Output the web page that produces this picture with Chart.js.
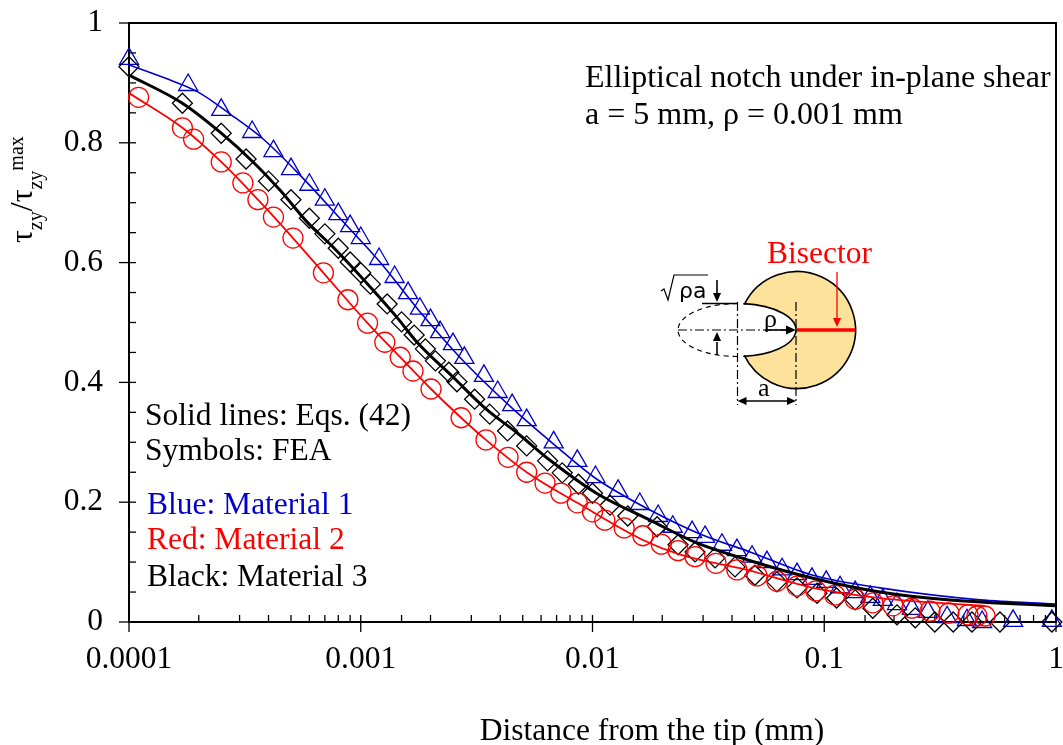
<!DOCTYPE html>
<html>
<head>
<meta charset="UTF-8" />
<title>Elliptical notch</title>
<script src="https://cdn.jsdelivr.net/npm/chart.js"></script>
<style>
  body { margin: 0; background: #fff; }
  canvas { display: block; }
</style>
</head>
<body>
<canvas id="chart" width="1063" height="745"></canvas>
<script>
// FEA symbols
const xBlue = [0.0001,0.00018,0.00025,0.00034,0.00042,0.0005,0.0006,0.0007,0.0008,0.0009,0.001,0.0012,0.0014,0.0016,0.0018,0.002,0.0022,0.0025,0.0028,0.0034,0.0039,0.0045,0.0052,0.0068,0.0086,0.0103,0.0129,0.016,0.0192,0.0222,0.0269,0.0306,0.0362,0.042,0.0488,0.0566,0.0658,0.0763,0.0885,0.102,0.117,0.136,0.158,0.179,0.206,0.239,0.28,0.339,0.413,0.48,0.653,0.96];
const yBlue = [0.94,0.8965,0.855,0.818,0.786,0.756,0.73,0.705,0.681,0.661,0.641,0.606,0.576,0.549,0.523,0.504,0.484,0.464,0.441,0.411,0.384,0.362,0.337,0.3,0.269,0.242,0.219,0.197,0.177,0.159,0.15,0.142,0.129,0.12,0.109,0.1,0.088,0.08,0.072,0.067,0.058,0.05,0.042,0.037,0.03,0.022,0.017,0.008,0.003,0,0.002,0.002];

const xBlack = [0.0001,0.00017,0.00025,0.00032,0.0004,0.0005,0.0006,0.0007,0.0008,0.0009,0.001,0.0011,0.0013,0.0015,0.0017,0.0019,0.0021,0.0024,0.0026,0.0031,0.0036,0.0043,0.0052,0.0064,0.0074,0.0087,0.01,0.0119,0.0142,0.019,0.0234,0.0277,0.0338,0.0412,0.0502,0.0625,0.0763,0.0931,0.113,0.136,0.162,0.206,0.247,0.3,0.36,0.434,0.573,0.96];
const yBlack = [0.927,0.866,0.816,0.773,0.736,0.705,0.674,0.648,0.624,0.601,0.583,0.564,0.531,0.501,0.479,0.456,0.436,0.417,0.401,0.372,0.347,0.319,0.294,0.269,0.249,0.23,0.215,0.195,0.177,0.159,0.129,0.117,0.107,0.092,0.078,0.067,0.057,0.048,0.04,0.037,0.023,0.012,0.007,0,0,0,0,0];

const xRed = [0.00011,0.00017,0.00019,0.00025,0.00031,0.00036,0.00042,0.00051,0.00069,0.00088,0.00107,0.00127,0.00148,0.00168,0.00201,0.00271,0.00347,0.00432,0.0052,0.00624,0.00731,0.0086,0.01,0.0113,0.0137,0.0165,0.0198,0.0234,0.0277,0.0341,0.042,0.0513,0.0625,0.0763,0.092,0.111,0.136,0.162,0.198,0.239,0.286,0.345,0.417,0.456,0.494];
const yRed = [0.876,0.825,0.806,0.768,0.733,0.705,0.676,0.641,0.583,0.538,0.499,0.467,0.442,0.419,0.389,0.341,0.304,0.275,0.25,0.232,0.215,0.199,0.184,0.17,0.157,0.144,0.13,0.119,0.109,0.098,0.087,0.077,0.068,0.06,0.052,0.045,0.038,0.032,0.027,0.023,0.018,0.015,0.012,0.01,0.01];

// Eqs. (42) curves
const lineXBlue = [0.0001,0.000143,0.000198,0.000273,0.000375,0.000547,0.000813,0.00121,0.0018,0.0028,0.0045,0.00689,0.0103,0.0177,0.0291,0.0478,0.0894,0.174,0.47,1];
const lineYBlue = [0.93,0.908,0.885,0.848,0.808,0.746,0.674,0.601,0.518,0.434,0.357,0.295,0.24,0.187,0.147,0.117,0.078,0.057,0.037,0.03];

const lineXBlack = [0.0001,0.00017,0.00025,0.000343,0.000448,0.000586,0.000759,0.00106,0.00143,0.00175,0.0025,0.00351,0.00472,0.00656,0.0104,0.0177,0.0282,0.0464,0.0894,0.174,0.339,1];
const lineYBlack = [0.913,0.866,0.816,0.768,0.721,0.668,0.626,0.566,0.509,0.467,0.409,0.354,0.316,0.27,0.215,0.17,0.132,0.104,0.073,0.05,0.037,0.027];

const lineXRed = [0.0001,0.00017,0.00025,0.00036,0.00051,0.00069,0.00107,0.00148,0.00201,0.00271,0.00347,0.0052,0.0086,0.0165,0.0241,0.0464,0.0894,0.174,0.494];
const lineYRed = [0.883,0.825,0.768,0.705,0.641,0.583,0.499,0.442,0.389,0.341,0.304,0.25,0.199,0.137,0.112,0.087,0.057,0.04,0.027];

const xTickLabels = [0.0001, 0.001, 0.01, 0.1, 1];
const yTickLabels = [0, 0.2, 0.4, 0.6, 0.8, 1];

const SERIF = '"Liberation Serif", serif';
const BLUE = '#0000cc';
const RED = '#ff0000';

function pts(xs, ys) {
  return xs.map((x, i) => ({ x: x, y: ys[i] }));
}

function symbols(xs, ys, style, radius, color, order) {
  return {
    data: pts(xs, ys), showLine: false, pointStyle: style, pointRadius: radius,
    pointBackgroundColor: 'transparent', pointBorderColor: color, pointBorderWidth: 1.3,
    clip: false, order: order
  };
}

function curve(xs, ys, color, width, order) {
  return {
    data: pts(xs, ys), showLine: true, pointRadius: 0, borderColor: color, borderWidth: width,
    cubicInterpolationMode: 'monotone', order: order
  };
}

function isLabelled(list, v) {
  return list.some(t => Math.abs(t - v) < v * 1e-6 + 1e-9);
}

function noPadding(scale) {
  scale.paddingLeft = scale.paddingRight = scale.paddingTop = scale.paddingBottom = 0;
}

// axis frame and ticks, major ones cross the frame
const framePlugin = {
  id: 'frame',
  beforeDatasetsDraw(chart) {
    const c = chart.ctx, a = chart.chartArea, sx = chart.scales.x, sy = chart.scales.y;
    c.save();
    c.strokeStyle = '#000';
    c.lineWidth = 1.3;
    sx.ticks.forEach(t => {
      const p = sx.getPixelForValue(t.value);
      const major = isLabelled(xTickLabels, t.value);
      c.beginPath();
      c.moveTo(p, a.bottom - 7);
      c.lineTo(p, a.bottom + (major ? 10 : 0));
      c.stroke();
    });
    sy.ticks.forEach(t => {
      const p = sy.getPixelForValue(t.value);
      const major = isLabelled(yTickLabels, t.value);
      c.beginPath();
      c.moveTo(a.left + 7, p);
      c.lineTo(a.left - (major ? 10 : 0), p);
      c.stroke();
    });
    c.lineWidth = 2;
    c.strokeRect(a.left, a.top, a.right - a.left, a.bottom - a.top);
    c.restore();
  }
};

function arrowHead(c, x, y, dx, dy, size) {
  c.beginPath();
  c.moveTo(x, y);
  c.lineTo(x - dx * size - dy * size * 0.45, y - dy * size - dx * size * 0.45);
  c.lineTo(x - dx * size + dy * size * 0.45, y - dy * size + dx * size * 0.45);
  c.closePath();
  c.fill();
}

function line(c, x1, y1, x2, y2) {
  c.beginPath();
  c.moveTo(x1, y1);
  c.lineTo(x2, y2);
  c.stroke();
}

function drawInset(c) {
  const cx = 797, cy = 330, r = 58.5, ex = 737.5, ea = 58.5, eb = 26.5;
  const ang = Math.atan2(25.4, 52.7);
  c.save();
  c.fillStyle = '#fde29b';
  c.beginPath();
  c.arc(cx, cy, r, Math.PI + ang, Math.PI - ang);
  c.closePath();
  c.fill();
  c.fillStyle = '#fff';
  c.beginPath();
  c.ellipse(ex, cy, ea, eb, 0, 0, Math.PI * 2);
  c.fill();

  c.strokeStyle = '#000';
  c.fillStyle = '#000';
  c.lineWidth = 1.6;
  c.beginPath();
  c.arc(cx, cy, r, Math.PI + ang, Math.PI - ang);
  c.stroke();
  c.beginPath();
  c.ellipse(ex, cy, ea, eb, 0, -Math.PI / 2 + 0.1, Math.PI / 2 - 0.1);
  c.stroke();

  c.lineWidth = 1.2;
  c.setLineDash([5, 4]);
  c.beginPath();
  c.ellipse(ex, cy, ea + 1, eb, 0, Math.PI / 2, Math.PI * 1.5);
  c.stroke();
  c.setLineDash([9, 3, 2, 3]);
  line(c, 678, cy, 797, cy);
  line(c, 737.5, 302, 737.5, 405);
  line(c, 796, 302, 796, 405);
  c.setLineDash([]);

  // dimension marks
  c.lineWidth = 1.6;
  line(c, 702, 303.5, 737, 303.5);
  line(c, 717, 280, 717, 296);
  arrowHead(c, 717, 302, 0, 1, 9);
  line(c, 717, 342, 717, 355);
  arrowHead(c, 717, 332, 0, -1, 9);
  line(c, 765, 330, 790, 330);
  arrowHead(c, 796, 330, 1, 0, 10);
  line(c, 745, 401, 790, 401);
  arrowHead(c, 737.5, 401, -1, 0, 9);
  arrowHead(c, 796, 401, 1, 0, 9);

  c.strokeStyle = RED;
  c.fillStyle = RED;
  c.lineWidth = 3.5;
  line(c, 797, 330, 855, 330);
  c.lineWidth = 1.3;
  line(c, 837, 272, 837, 318);
  arrowHead(c, 837, 327, 0, 1, 9);

  c.fillStyle = '#000';
  c.strokeStyle = '#000';
  c.textAlign = 'left';
  c.font = '26px ' + SERIF;
  c.fillText('ρ', 764, 327);
  c.fillText('a', 758, 396);
  c.font = '22px "DejaVu Sans", sans-serif';
  c.fillText('ρa', 679, 298);
  c.lineWidth = 1.2;
  c.beginPath();
  c.moveTo(661, 291);
  c.lineTo(664, 289);
  c.lineTo(668, 300);
  c.lineTo(674, 275);
  c.lineTo(708, 275);
  c.stroke();
  c.fillStyle = RED;
  c.font = '31.5px ' + SERIF;
  c.fillText('Bisector', 767, 263);
  c.restore();
}

const textPlugin = {
  id: 'texts',
  afterDatasetsDraw(chart) {
    const c = chart.ctx;
    c.save();
    c.textBaseline = 'alphabetic';
    c.textAlign = 'left';
    c.fillStyle = '#000';
    c.font = '32px ' + SERIF;
    c.fillText('Elliptical notch under in-plane shear', 585, 87);
    c.fillText('a = 5 mm, ρ = 0.001 mm', 585, 124);
    c.font = '31.5px ' + SERIF;
    c.fillText('Solid lines: Eqs. (42)', 145, 425);
    c.fillText('Symbols: FEA', 145, 460);
    c.fillStyle = BLUE;
    c.fillText('Blue: Material 1', 147, 514);
    c.fillStyle = RED;
    c.fillText('Red: Material 2', 147, 549);
    c.fillStyle = '#000';
    c.fillText('Black: Material 3', 147, 586);
    c.textAlign = 'center';
    c.fillText('Distance from the tip (mm)', 652, 740);

    // y axis title with sub and superscripts
    c.save();
    c.translate(32, 243);
    c.rotate(-Math.PI / 2);
    c.textAlign = 'left';
    let pos = 0;
    const parts = [['τ', 32, 0], ['zy', 20, 10], ['/', 32, 0], ['τ', 32, 0], ['zy', 20, 10], ['max', 20, -9]];
    parts.forEach(p => {
      c.font = p[1] + 'px ' + SERIF;
      c.fillText(p[0], pos, p[2]);
      pos += c.measureText(p[0]).width;
    });
    c.restore();
    c.restore();
    drawInset(c);
  }
};

new Chart(document.getElementById('chart').getContext('2d'), {
  type: 'scatter',
  data: {
    datasets: [
      curve(lineXBlue, lineYBlue, BLUE, 1.6, 3),
      curve(lineXRed, lineYRed, RED, 1.8, 2),
      curve(lineXBlack, lineYBlack, '#000', 3, 1),
      symbols(xBlue, yBlue, 'triangle', 11, BLUE, 6),
      symbols(xBlack, yBlack, 'rectRot', 10, '#000', 5),
      symbols(xRed, yRed, 'circle', 10, RED, 4)
    ]
  },
  options: {
    responsive: false,
    animation: false,
    layout: { autoPadding: false, padding: { top: 23, right: 7, left: 0, bottom: 0 } },
    plugins: { legend: { display: false }, tooltip: { enabled: false } },
    scales: {
      x: {
        type: 'logarithmic', min: 0.0001, max: 1,
        grid: { display: false, drawTicks: false },
        border: { display: false },
        afterFit(scale) { scale.height = 123; noPadding(scale); },
        ticks: {
          autoSkip: false, maxRotation: 0, padding: 19,
          color: '#000', font: { family: SERIF, size: 31.5 },
          callback(v) { return isLabelled(xTickLabels, v) ? String(xTickLabels.find(t => isLabelled([t], v))) : ''; }
        }
      },
      y: {
        type: 'linear', min: 0, max: 1,
        grid: { display: false, drawTicks: false },
        border: { display: false },
        afterFit(scale) { scale.width = 129; noPadding(scale); },
        ticks: {
          stepSize: 0.05, autoSkip: false, padding: 26,
          color: '#000', font: { family: SERIF, size: 31.5 },
          callback(v) { return isLabelled(yTickLabels, v) ? String(Math.round(v * 10) / 10) : ''; }
        }
      }
    }
  },
  plugins: [framePlugin, textPlugin]
});
</script>
</body>
</html>
